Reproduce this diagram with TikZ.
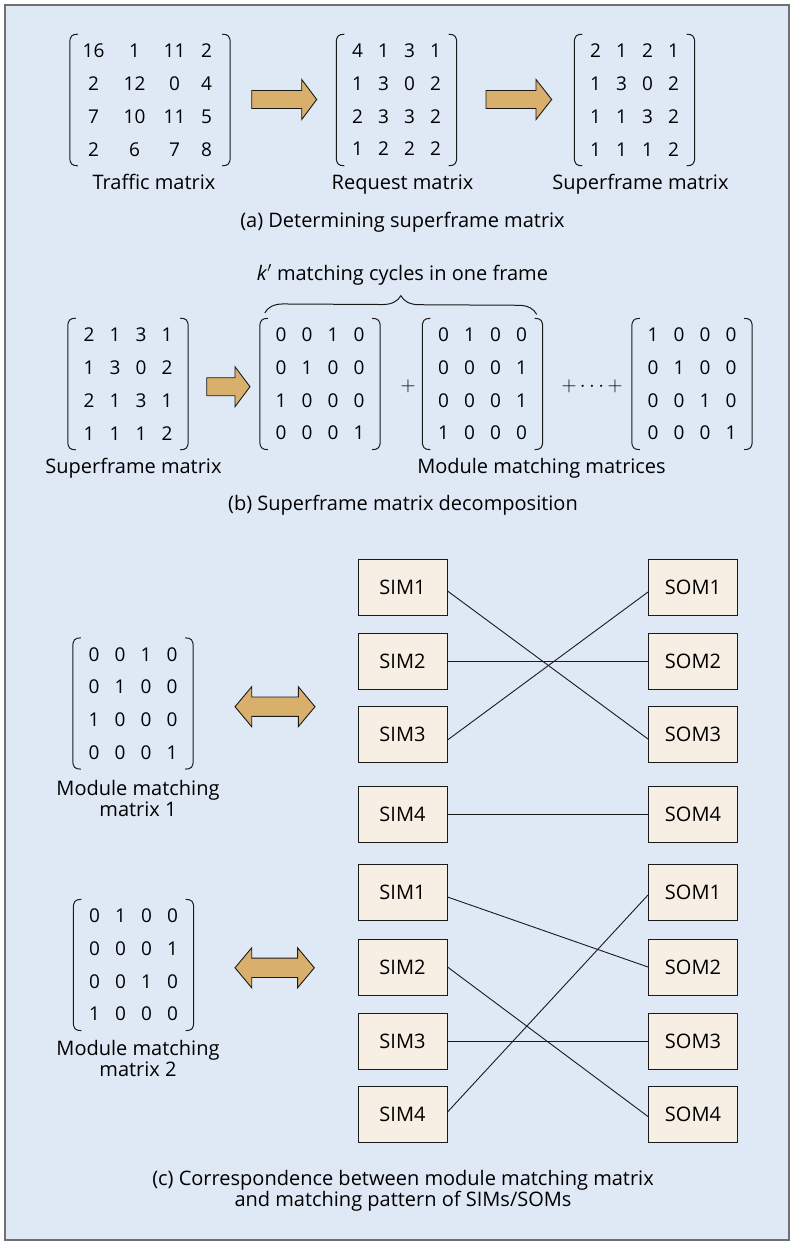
\documentclass[tikz,border=0pt]{standalone}
\usepackage{fontspec}
\setmainfont{Open Sans}
\usetikzlibrary{matrix,decorations.pathreplacing,calc}

\definecolor{panelbg}{HTML}{DFE8F5}
\definecolor{panelline}{HTML}{707070}
\definecolor{boxfill}{HTML}{F7EFE3}
\definecolor{arrowfill}{HTML}{D8B06C}
\definecolor{inkline}{HTML}{1A1A1A}

\newcommand\lblsize{\fontsize{20}{21}\selectfont}
\newcommand\digsize{\fontsize{19}{21}\selectfont}

% curved matrix brackets drawn round a named matrix node
\newcommand\matbrackets[1]{%
  \draw[brk] ([xshift=8pt]#1.north west) .. controls ([xshift=2pt]#1.north west) and ([yshift=-2pt]#1.north west) .. ([yshift=-9pt]#1.north west)
    -- ([yshift=9pt]#1.south west) .. controls ([yshift=2pt]#1.south west) and ([xshift=2pt]#1.south west) .. ([xshift=8pt]#1.south west);
  \draw[brk] ([xshift=-8pt]#1.north east) .. controls ([xshift=-2pt]#1.north east) and ([yshift=-2pt]#1.north east) .. ([yshift=-9pt]#1.north east)
    -- ([yshift=9pt]#1.south east) .. controls ([yshift=2pt]#1.south east) and ([xshift=-2pt]#1.south east) .. ([xshift=-8pt]#1.south east);
}

% block arrow pointing right: start x, head base x, tip x, centre y
\newcommand\fatarrow[4]{%
  \filldraw[fat] (#1,#4-9) -- (#2,#4-9) -- (#2,#4-20) -- (#3,#4) -- (#2,#4+20) -- (#2,#4+9) -- (#1,#4+9) -- cycle;}

% two-headed block arrow: left tip x, right tip x, centre y
\newcommand\fatdarrow[3]{%
  \filldraw[fat] (#1,#3) -- (#1+16.7,#3-20) -- (#1+16.7,#3-9.7) -- (#2-16.7,#3-9.7) -- (#2-16.7,#3-20) -- (#2,#3)
    -- (#2-16.7,#3+20) -- (#2-16.7,#3+9.7) -- (#1+16.7,#3+9.7) -- (#1+16.7,#3+20) -- cycle;}

\begin{document}
\begin{tikzpicture}[x=1pt,y=-1pt,
  brk/.style={draw=inkline, line width=1pt},
  fat/.style={fill=arrowfill, draw=inkline, line width=0.9pt, line join=miter},
  mat/.style={matrix of nodes, inner xsep=8pt, inner ysep=0pt, column sep=0pt, row sep=0pt,
    nodes={minimum width=26pt, minimum height=32.7pt, inner sep=0pt, font=\digsize}},
  lbl/.style={font=\lblsize, inner sep=0pt, anchor=base, align=center},
  modbox/.style={draw=inkline, fill=boxfill, line width=1pt, minimum width=89pt, minimum height=56pt,
    inner sep=0pt, font=\lblsize},
  link/.style={draw=inkline, line width=0.9pt}]

\useasboundingbox (0,0) rectangle (791,1241);
\draw[fill=panelbg, draw=panelline, line width=1.6pt] (5,5) rectangle (789,1240);

% ---------- (a) determining the superframe matrix ----------
\matrix (T) [mat, inner xsep=10pt, nodes={minimum width=27pt}] at (150,100) {
  16 &[14pt] 1  &[13pt] 11 &[5pt] 2 \\
  2  &[14pt] 12 &[13pt] 0  &[5pt] 4 \\
  7  &[14pt] 10 &[13pt] 11 &[5pt] 5 \\
  2  &[14pt] 6  &[13pt] 7  &[5pt] 8 \\};
\matbrackets{T}
\node[lbl] (Tl) at (154,190) {Traffic matrix};

\fatarrow{251.7}{301.7}{316.7}{99.5}

\matrix (R) [mat] at (396.5,100) {
  4 & 1 & 3 & 1 \\
  1 & 3 & 0 & 2 \\
  2 & 3 & 3 & 2 \\
  1 & 2 & 2 & 2 \\};
\matbrackets{R}
\node[lbl] (Rl) at (402.5,190) {Request matrix};

\fatarrow{486}{536}{551.7}{99.5}

\matrix (S) [mat] at (634.5,100) {
  2 & 1 & 2 & 1 \\
  1 & 3 & 0 & 2 \\
  1 & 1 & 3 & 2 \\
  1 & 1 & 1 & 2 \\};
\matbrackets{S}
\node[lbl] (Sl) at (640.5,190) {Superframe matrix};

\node[lbl] (capa) at (402.5,228) {(a) Determining superframe matrix};

% ---------- (b) superframe matrix decomposition ----------
\node[lbl] (kc) at (402.5,280) {\textit{k}$'$ matching cycles in one frame};

\matrix (SB) [mat] at (128,384) {
  2 & 1 & 3 & 1 \\
  1 & 3 & 0 & 2 \\
  2 & 1 & 3 & 1 \\
  1 & 1 & 1 & 2 \\};
\matbrackets{SB}
\node[lbl] (SBl) at (133.5,473) {Superframe matrix};

\fatarrow{206.7}{235}{250}{386.7}

\matrix (M1) [mat] at (320,384) {
  0 & 0 & 1 & 0 \\
  0 & 1 & 0 & 0 \\
  1 & 0 & 0 & 0 \\
  0 & 0 & 0 & 1 \\};
\matbrackets{M1}

\node[lbl, anchor=center] (p1) at (408,386) {$+$};

\matrix (M2) [mat] at (482.5,384) {
  0 & 1 & 0 & 0 \\
  0 & 0 & 0 & 1 \\
  0 & 0 & 0 & 1 \\
  1 & 0 & 0 & 0 \\};
\matbrackets{M2}

\node[lbl, anchor=center] (p2) at (592,386) {$+\cdots+$};

\matrix (M3) [mat] at (692,384) {
  1 & 0 & 0 & 0 \\
  0 & 1 & 0 & 0 \\
  0 & 0 & 1 & 0 \\
  0 & 0 & 0 & 1 \\};
\matbrackets{M3}

\draw[brk, decorate, decoration={brace, amplitude=18pt}]
  ([xshift=5pt,yshift=5.5pt]M1.north west) -- ([xshift=-6pt,yshift=4pt]M2.north east);

\node[lbl] (Ml) at (541.5,473) {Module matching matrices};
\node[lbl] (capb) at (403,510.7) {(b) Superframe matrix decomposition};

% ---------- (c) matching matrices and SIM/SOM patterns ----------
\matrix (C1) [mat] at (133,703.5) {
  0 & 0 & 1 & 0 \\
  0 & 1 & 0 & 0 \\
  1 & 0 & 0 & 0 \\
  0 & 0 & 0 & 1 \\};
\matbrackets{C1}
\node[lbl] (C1l) at (138,816) {Module matching\\matrix 1};

\fatdarrow{235}{315}{706.7}

\node[modbox] (a1) at (402.5,587)   {SIM1};
\node[modbox] (a2) at (402.5,661)   {SIM2};
\node[modbox] (a3) at (402.5,734.5) {SIM3};
\node[modbox] (a4) at (402.5,814)   {SIM4};
\node[modbox] (b1) at (693,587)     {SOM1};
\node[modbox] (b2) at (693,661)     {SOM2};
\node[modbox] (b3) at (693,734.5)   {SOM3};
\node[modbox] (b4) at (693,814)     {SOM4};

\draw[link] ([yshift=-4pt]a1.east) -- ([yshift=-4.5pt]b3.west);
\draw[link] (a2.east) -- (b2.west);
\draw[link] ([yshift=-5.5pt]a3.east) -- ([yshift=-5pt]b1.west);
\draw[link] (a4.east) -- (b4.west);

\matrix (C2) [mat] at (133.5,965) {
  0 & 1 & 0 & 0 \\
  0 & 0 & 0 & 1 \\
  0 & 0 & 1 & 0 \\
  1 & 0 & 0 & 0 \\};
\matbrackets{C2}
\node[lbl] (C2l) at (138,1076) {Module matching\\matrix 2};

\fatdarrow{235}{314.3}{967.8}

\node[modbox] (c1) at (402.5,892.5)  {SIM1};
\node[modbox] (c2) at (402.5,967)    {SIM2};
\node[modbox] (c3) at (402.5,1041)   {SIM3};
\node[modbox] (c4) at (402.5,1114.5) {SIM4};
\node[modbox] (d1) at (693,892.5)    {SOM1};
\node[modbox] (d2) at (693,967)      {SOM2};
\node[modbox] (d3) at (693,1041)     {SOM3};
\node[modbox] (d4) at (693,1114.5)   {SOM4};

\draw[link] ([yshift=-4.5pt]c1.east) -- (d2.west);
\draw[link] (c2.east) -- ([yshift=-2pt]d4.west);
\draw[link] (c3.east) -- (d3.west);
\draw[link] ([yshift=2.5pt]c4.east) -- ([yshift=-2.5pt]d1.west);

\node[lbl] (capc) at (403,1206) {(c) Correspondence between module matching matrix\\and matching pattern of SIMs/SOMs};

\end{tikzpicture}
\end{document}
